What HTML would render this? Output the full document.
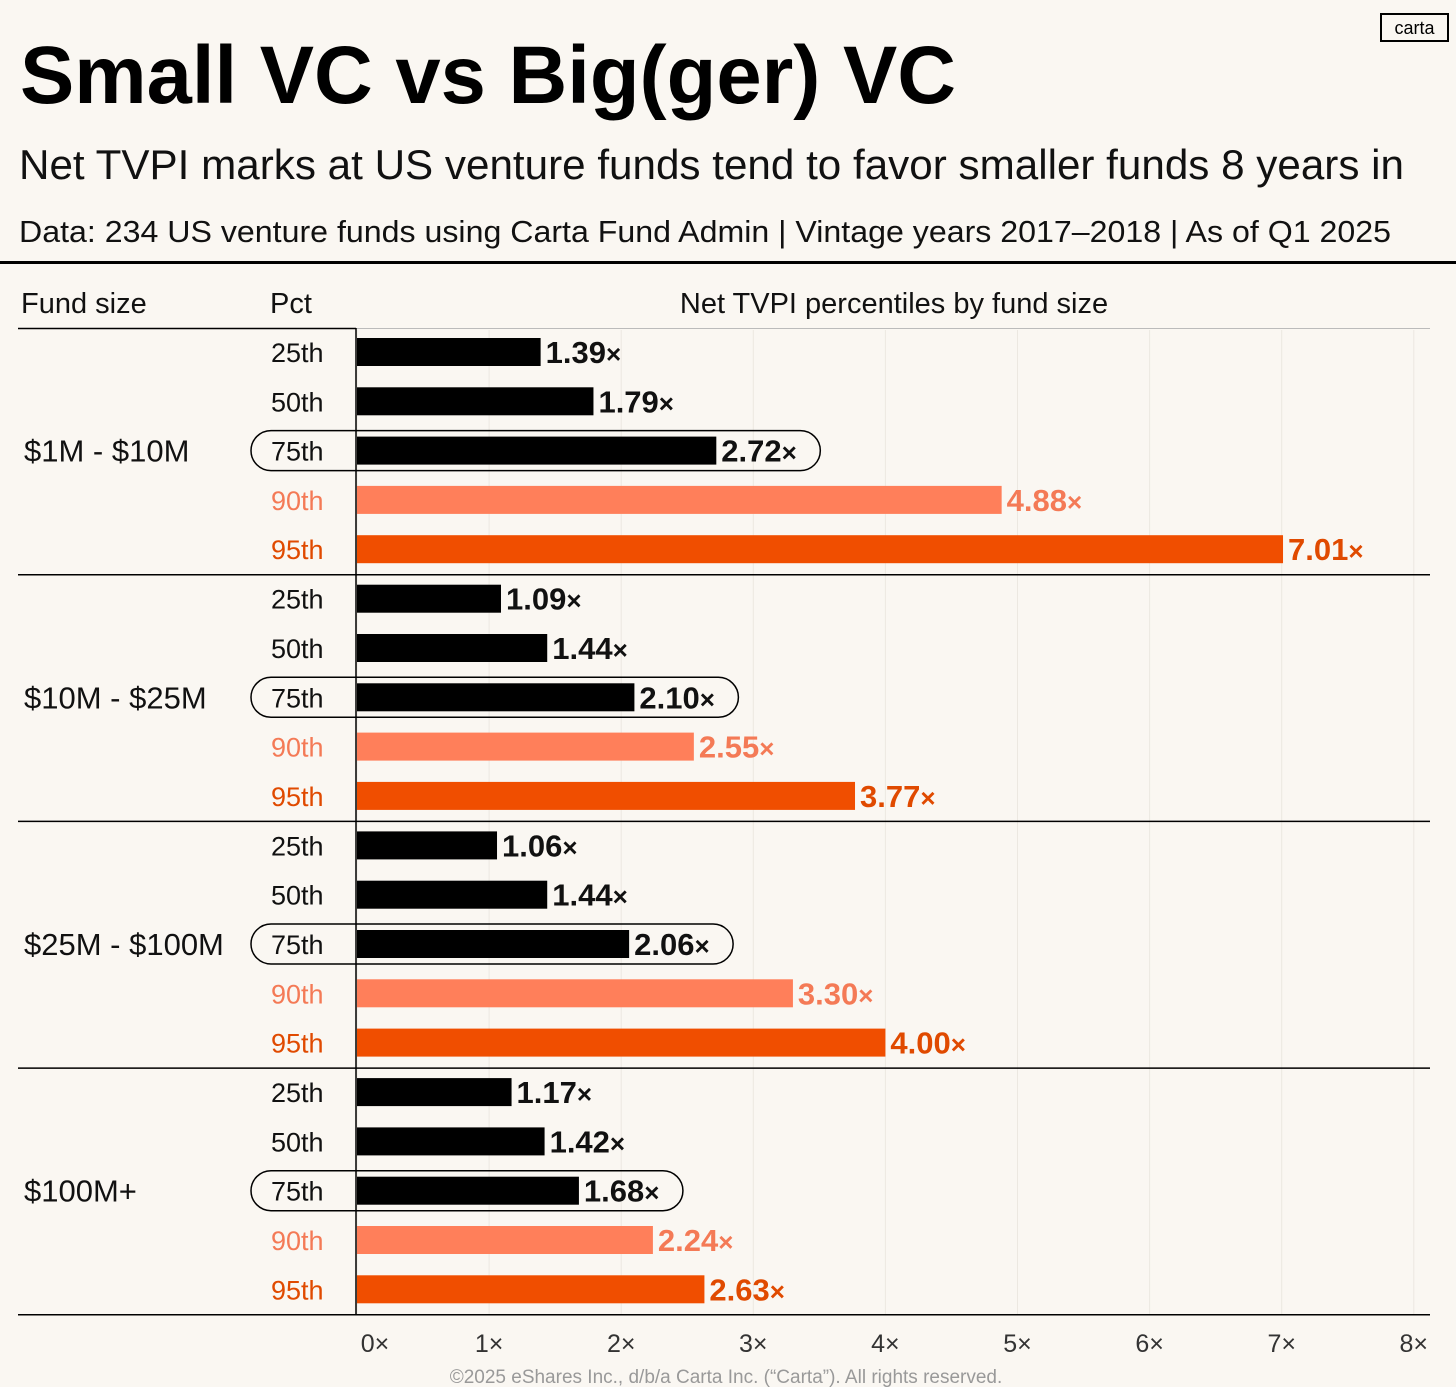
<!DOCTYPE html>
<html><head><meta charset="utf-8"><style>
body{margin:0;background:#faf7f2;}
svg{display:block;font-family:"Liberation Sans",sans-serif;}
</style></head><body>
<svg id="c" width="1456" height="1387" viewBox="0 0 1456 1387">
<rect width="1456" height="1387" fill="#faf7f2"/>
<text x="20" y="103" font-size="82" font-weight="bold" fill="#000" textLength="936" lengthAdjust="spacingAndGlyphs">Small VC vs Big(ger) VC</text>
<rect x="1381" y="14" width="67" height="27" fill="none" stroke="#000" stroke-width="2"/>
<text x="1414.5" y="34" font-size="18" text-anchor="middle" fill="#000">carta</text>
<text x="19" y="179" font-size="42" fill="#111" textLength="1385" lengthAdjust="spacingAndGlyphs">Net TVPI marks at US venture funds tend to favor smaller funds 8 years in</text>
<text x="19" y="242" font-size="31" fill="#111" textLength="1372" lengthAdjust="spacingAndGlyphs">Data: 234 US venture funds using Carta Fund Admin | Vintage years 2017–2018 | As of Q1 2025</text>
<rect x="0" y="261" width="1456" height="3" fill="#000"/>
<text x="21" y="313" font-size="29" fill="#111">Fund size</text>
<text x="270" y="313" font-size="29" fill="#111">Pct</text>
<text x="894" y="313" font-size="29" fill="#111" text-anchor="middle">Net TVPI percentiles by fund size</text>
<line x1="18" y1="328.5" x2="356" y2="328.5" stroke="#000" stroke-width="1.5"/>
<line x1="356" y1="328.5" x2="1430" y2="328.5" stroke="#bbb" stroke-width="1"/>
<g id="grid"></g><g id="bars"></g><g id="axis"></g>
<text x="726" y="1383" font-size="19" fill="#999" text-anchor="middle">©2025 eShares Inc., d/b/a Carta Inc. (“Carta”). All rights reserved.</text>
</svg>
<script>
const groups = ["$1M - $10M", "$10M - $25M", "$25M - $100M", "$100M+"];
const pcts = ["25th", "50th", "75th", "90th", "95th"];
const v1 = [1.39, 1.79, 2.72, 4.88, 7.01];
const v2 = [1.09, 1.44, 2.10, 2.55, 3.77];
const v3 = [1.06, 1.44, 2.06, 3.30, 4.00];
const v4 = [1.17, 1.42, 1.68, 2.24, 2.63];
const ticks = [0, 1, 2, 3, 4, 5, 6, 7, 8];
const series = [v1, v2, v3, v4];
const NS = "http://www.w3.org/2000/svg";
const X0 = 357, XU = 132.1, Y0 = 352, GH = 246.7, RH = 49.3;
const xs = v => X0 + v * XU;
const yc = (g, r) => Y0 + g * GH + r * RH;
function mk(tag, attrs, parent, text) {
  const e = document.createElementNS(NS, tag);
  for (const k in attrs) e.setAttribute(k, attrs[k]);
  if (text !== undefined) e.textContent = text;
  parent.appendChild(e);
  return e;
}
const grid = document.getElementById('grid'), bars = document.getElementById('bars'), axis = document.getElementById('axis');
ticks.forEach(t => {
  const l = mk('line', {x1: xs(t), x2: xs(t), y1: 330, y2: 1315, stroke: '#ece8e1', 'stroke-width': 1}, grid);
  
  
  const tx = mk('text', {x: t === 0 ? xs(t) + 18 : xs(t), y: 1352, 'font-size': 25, fill: '#333', 'text-anchor': 'middle'}, axis, t + '×');
  
  
});
const colors = ['#000', '#000', '#000', '#ff7f5a', '#f04e00'];
const lcol = ['#111', '#111', '#111', '#f47a56', '#e04a00'];
series.forEach((vals, g) => {
  const gl = mk('text', {x: 24, y: yc(g, 2) + 11, 'font-size': 31, fill: '#111'}, bars, groups[g]);
  
  
  vals.forEach((v, r) => {
    const y = yc(g, r);
    if (r === 2) {
      const p = mk('rect', {x: 251, y: y - 20, width: xs(v) + 104 - 251, height: 40, rx: 20, fill: 'none', stroke: '#000', 'stroke-width': 1.5}, bars);
      
      
    }
    const pl = mk('text', {x: 271, y: y + 10, 'font-size': 27, fill: lcol[r]}, bars, pcts[r]);
    
    
    const b = mk('rect', {x: X0, y: y - 14, width: xs(v) - X0, height: 28, fill: colors[r]}, bars);
    
    
    const vl = mk('text', {x: xs(v) + 5, y: y + 11, 'font-size': 31, 'font-weight': 'bold', fill: lcol[r]}, bars, v.toFixed(2));
    mk('tspan', {'font-size': 26}, vl, '×');
    
    
  });
  const sy = Y0 - 24 + (g + 1) * GH;
  const s = mk('line', {x1: 18, x2: 1430, y1: sy, y2: sy, stroke: '#000', 'stroke-width': 1.5}, bars);
  
  
});
const ax = mk('line', {x1: 356, x2: 356, y1: 328, y2: 1315, stroke: '#000', 'stroke-width': 1.5}, axis);


</script>
</body></html>
